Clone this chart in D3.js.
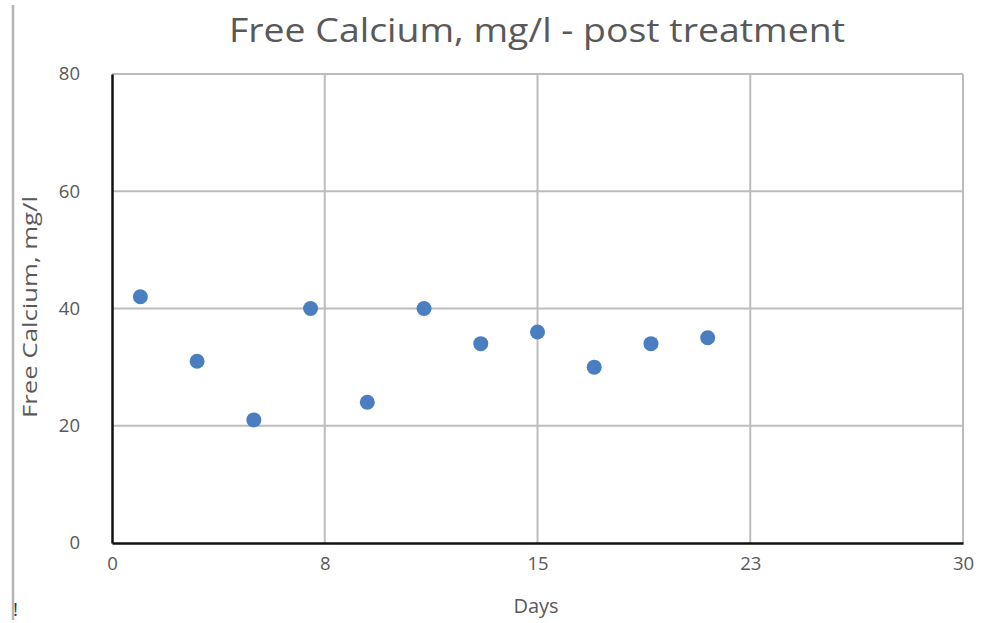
<!DOCTYPE html>
<html>
<head>
<meta charset="utf-8">
<script src="https://cdn.jsdelivr.net/npm/d3@7"></script>
<style>
  html, body { margin: 0; padding: 0; background: #fff; }
  svg { display: block; }
  text { font-family: "Open Sans", "DejaVu Sans", sans-serif; fill: #595959; }
</style>
</head>
<body>
<svg id="chart" width="987" height="623"></svg>
<script>
// Data
const days = [1, 3, 5, 7, 9, 11, 13, 15, 17, 19, 21];
const freeCalcium = [42, 31, 21, 40, 24, 40, 34, 36, 30, 34, 35];
const xTickValues = [0, 7.5, 15, 22.5, 30];
const xTickLabels = ["0", "8", "15", "23", "30"];
const yTickValues = [0, 20, 40, 60, 80];
const titleText = "Free Calcium, mg/l - post treatment";
const xTitle = "Days";
const yTitle = "Free Calcium, mg/l";

const svg = d3.select("#chart");
const m = { left: 112, right: 24, top: 74, bottom: 80 };
const W = 987, H = 623;

const x = d3.scaleLinear().domain([0, 30]).range([m.left, W - m.right]);
const y = d3.scaleLinear().domain([0, 80]).range([H - m.bottom, m.top]);

// stray left border line of the screenshot
svg.append("line").attr("x1", 13).attr("x2", 13).attr("y1", 5).attr("y2", 620)
  .attr("stroke", "#b5b5b5").attr("stroke-width", 2.5);
svg.append("text").attr("x", 13).attr("y", 616).attr("font-size", 19).style("fill", "#333").text("!");

// grid
const grid = svg.append("g");
grid.selectAll(".vg").data(xTickValues.filter(d => d > 0)).join("line")
  .attr("x1", d => x(d)).attr("x2", d => x(d))
  .attr("y1", y(80)).attr("y2", y(0))
  .attr("stroke", "#bdbdbd").attr("stroke-width", 2);
grid.selectAll(".hg").data(yTickValues.filter(d => d > 0)).join("line")
  .attr("x1", x(0)).attr("x2", x(30))
  .attr("y1", d => y(d)).attr("y2", d => y(d))
  .attr("stroke", "#bdbdbd").attr("stroke-width", 2);

// axes
const xAxis = d3.axisBottom(x).tickValues(xTickValues)
  .tickFormat((d, i) => xTickLabels[i]).tickSize(0).tickPadding(14);
const gx = svg.append("g").attr("transform", `translate(0,${y(0)})`).call(xAxis);
gx.select(".domain").attr("stroke", "#111").attr("stroke-width", 2.5);
gx.selectAll("text").attr("font-size", 18.5).style("fill", "#595959")
  .style("font-family", "'Open Sans', sans-serif");

const yAxis = d3.axisLeft(y).tickValues(yTickValues).tickSize(0).tickPadding(32);
const gy = svg.append("g").attr("transform", `translate(${x(0)},0)`).call(yAxis);
gy.select(".domain").attr("stroke", "#111").attr("stroke-width", 2.5);
gy.selectAll("text").attr("font-size", 18.5).style("fill", "#595959")
  .style("font-family", "'Open Sans', sans-serif");

// points
svg.append("g").selectAll("circle").data(days).join("circle")
  .attr("cx", (d) => x(d))
  .attr("cy", (d, i) => y(freeCalcium[i]))
  .attr("r", 7.5)
  .attr("fill", "#4a7ec0");

// title
svg.append("text").attr("x", 537).attr("y", 42).attr("text-anchor", "middle")
  .attr("font-size", 33).attr("textLength", 616).attr("lengthAdjust", "spacingAndGlyphs")
  .text(titleText);

// x title
svg.append("text").attr("x", 536).attr("y", 613).attr("text-anchor", "middle")
  .attr("font-size", 20).text(xTitle);

// y title
svg.append("text").attr("transform", "translate(37,307) rotate(-90)")
  .attr("text-anchor", "middle").attr("font-size", 20)
  .attr("textLength", 222).attr("lengthAdjust", "spacingAndGlyphs")
  .text(yTitle);
</script>
</body>
</html>
